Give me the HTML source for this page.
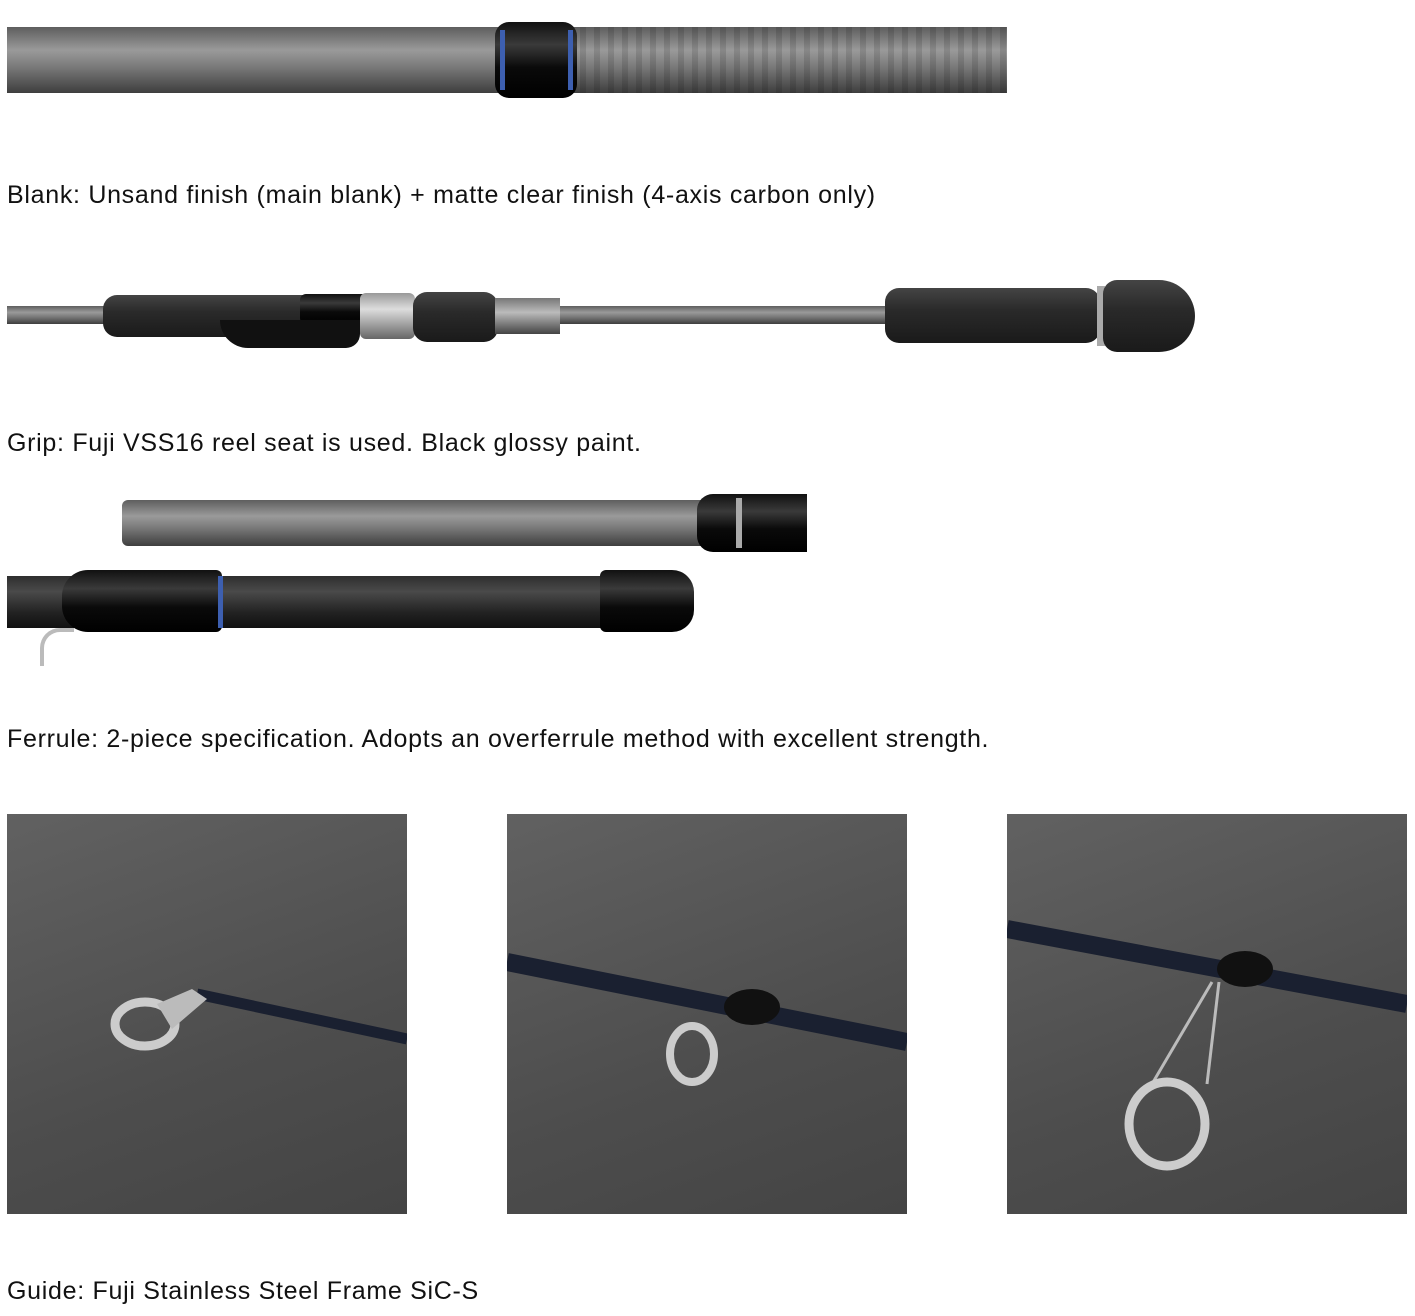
<!DOCTYPE html>
<html><head><meta charset="utf-8"><style>
body{margin:0;background:#fff;width:1415px;height:1316px;position:relative;overflow:hidden;font-family:"Liberation Sans",sans-serif}
.a{position:absolute}
.t{position:absolute;left:7px;font-size:25px;letter-spacing:0.7px;color:#111;white-space:nowrap;line-height:28px}
.rod{background:linear-gradient(#5e5e5e,#9a9a9a 35%,#7a7a7a 60%,#3e3e3e)}
.blk{background:linear-gradient(#111,#3a3a3a 30%,#0a0a0a 60%,#000);border-radius:10px}
.foam{background:linear-gradient(#444,#2a2a2a 40%,#1a1a1a);border-radius:14px}
.sq{position:absolute;top:814px;width:400px;height:400px;background:linear-gradient(160deg,#616161,#4d4d4d 60%,#444);overflow:hidden}
</style></head><body>
<div class="a rod" style="left:7px;top:27px;width:1000px;height:66px"></div>
<div class="a" style="left:580px;top:27px;width:427px;height:66px;background:repeating-linear-gradient(90deg,rgba(0,0,0,.12) 0 6px,transparent 6px 14px)"></div>
<div class="a blk" style="left:495px;top:22px;width:82px;height:76px;border-radius:14px"></div>
<div class="a" style="left:500px;top:30px;width:5px;height:60px;background:#3d5fb0"></div>
<div class="a" style="left:568px;top:30px;width:5px;height:60px;background:#3d5fb0"></div>
<div class="t" style="top:181px">Blank: Unsand finish (main blank) + matte clear finish (4-axis carbon only)</div>
<div class="a rod" style="left:7px;top:306px;width:1100px;height:18px"></div>
<div class="a foam" style="left:103px;top:295px;width:225px;height:42px"></div>
<div class="a blk" style="left:300px;top:294px;width:70px;height:30px;border-radius:6px"></div>
<div class="a" style="left:220px;top:320px;width:140px;height:28px;background:#111;border-radius:0 0 30px 60px"></div>
<div class="a" style="left:360px;top:293px;width:55px;height:46px;background:linear-gradient(#999,#ddd 35%,#666);border-radius:6px"></div>
<div class="a foam" style="left:413px;top:292px;width:85px;height:50px"></div>
<div class="a" style="left:495px;top:298px;width:65px;height:36px;background:linear-gradient(#777,#bbb 40%,#444)"></div>
<div class="a foam" style="left:885px;top:288px;width:215px;height:55px"></div>
<div class="a" style="left:1097px;top:286px;width:8px;height:60px;background:#aaa"></div>
<div class="a foam" style="left:1103px;top:280px;width:92px;height:72px;border-radius:14px 36px 36px 14px"></div>
<div class="t" style="top:429px">Grip: Fuji VSS16 reel seat is used. Black glossy paint.</div>
<div class="a rod" style="left:122px;top:500px;width:684px;height:46px;border-radius:6px 0 0 6px"></div>
<div class="a blk" style="left:697px;top:494px;width:110px;height:58px;border-radius:16px 0 0 16px"></div>
<div class="a" style="left:736px;top:498px;width:6px;height:50px;background:#aaa"></div>
<div class="a" style="left:7px;top:576px;width:610px;height:52px;background:linear-gradient(#2e2e2e,#4a4a4a 30%,#222 70%,#111)"></div>
<div class="a blk" style="left:62px;top:570px;width:160px;height:62px;border-radius:26px 6px 6px 26px"></div>
<div class="a" style="left:218px;top:576px;width:5px;height:52px;background:#3d5fb0"></div>
<div class="a blk" style="left:600px;top:570px;width:94px;height:62px;border-radius:6px 22px 22px 6px"></div>
<div class="a" style="left:40px;top:628px;width:30px;height:34px;border-left:4px solid #bbb;border-top:4px solid #bbb;border-radius:20px 0 0 0"></div>
<div class="t" style="top:725px">Ferrule: 2-piece specification. Adopts an overferrule method with excellent strength.</div>
<div class="sq" style="left:7px"><svg width="400" height="400">
<line x1="190" y1="180" x2="400" y2="225" stroke="#1a2030" stroke-width="11"/>
<ellipse cx="138" cy="210" rx="30" ry="22" fill="none" stroke="#ccc" stroke-width="9"/>
<path d="M150 190 L185 175 L200 185 L165 215Z" fill="#bbb"/></svg></div>
<div class="sq" style="left:507px"><svg width="400" height="400">
<line x1="0" y1="148" x2="400" y2="228" stroke="#1a2030" stroke-width="18"/>
<ellipse cx="245" cy="193" rx="28" ry="18" fill="#111"/>
<ellipse cx="185" cy="240" rx="22" ry="28" fill="none" stroke="#ccc" stroke-width="8"/></svg></div>
<div class="sq" style="left:1007px"><svg width="400" height="400">
<line x1="0" y1="115" x2="400" y2="190" stroke="#1a2030" stroke-width="18"/>
<ellipse cx="238" cy="155" rx="28" ry="18" fill="#111"/>
<line x1="205" y1="168" x2="145" y2="270" stroke="#bbb" stroke-width="3"/>
<line x1="212" y1="168" x2="200" y2="270" stroke="#bbb" stroke-width="3"/>
<ellipse cx="160" cy="310" rx="38" ry="42" fill="none" stroke="#ccc" stroke-width="9"/></svg></div>
<div class="t" style="top:1277px">Guide: Fuji Stainless Steel Frame SiC-S</div>
</body></html>
